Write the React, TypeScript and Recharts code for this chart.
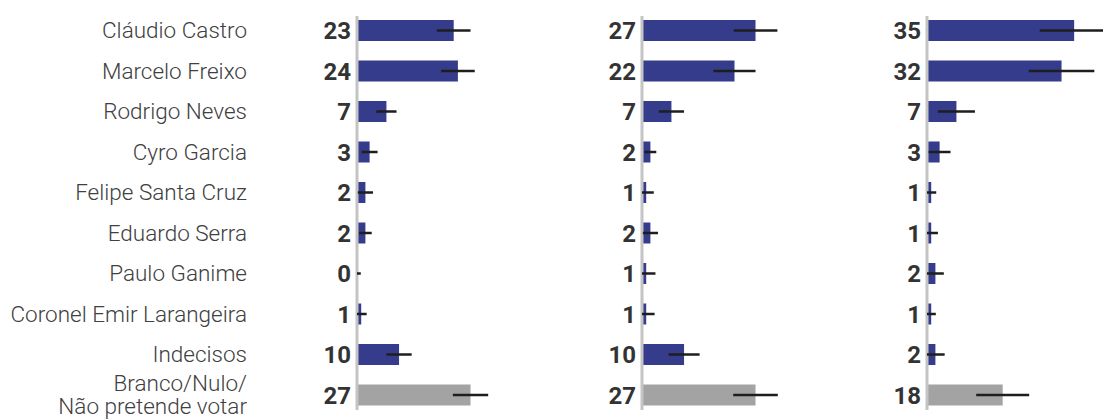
import { Bar, BarChart, ErrorBar, LabelList, ReferenceLine, XAxis, YAxis } from 'recharts';

const categories = [
    'Cláudio Castro',
    'Marcelo Freixo',
    'Rodrigo Neves',
    'Cyro Garcia',
    'Felipe Santa Cruz',
    'Eduardo Serra',
    'Paulo Ganime',
    'Coronel Emir Larangeira',
    'Indecisos',
    'Branco/Nulo/\nNão pretende votar',
];

// three polls, one panel each
const panel1Values = [23, 24, 7, 3, 2, 2, 0, 1, 10, 27];
const panel1Margins = [4, 4, 2.4, 1.9, 1.8, 1.5, 0.9, 1.3, 3, 4.2];

const panel2Values = [27, 22, 7, 2, 1, 2, 1, 1, 10, 27];
const panel2Margins = [5.2, 5, 3, 1.4, 1.8, 1.8, 2.2, 2, 3.7, 5.3];

const panel3Values = [35, 32, 7, 3, 1, 1, 2, 1, 2, 18];
const panel3Margins = [8.2, 7.8, 4.4, 2.6, 1.2, 1.6, 2, 1.1, 2.2, 6.3];

const BLUE = '#343c8b';
const GREY = '#a3a3a3';

const buildRows = (values: number[], margins: number[]) =>
    categories.map((name, i) => ({
        name,
        value: values[i],
        // lower bound is clipped at zero
        err: [Math.min(margins[i], values[i]), margins[i]],
        fill: i === categories.length - 1 ? GREY : BLUE,
    }));

const CategoryTick = ({ x, y, payload }: any) => {
    const lines = String(payload.value).split('\n');
    const lh = 22.5;
    const start = (-(lines.length - 1) * lh) / 2;
    return (
        <text
            x={x}
            y={y}
            textAnchor="end"
            fill="#404040"
            fontSize={22.5}
            fontFamily="'Roboto Light', Roboto"
            fontWeight={300}
        >
            {lines.map((l, i) => (
                <tspan key={i} x={x} y={y + start + i * lh} dy="0.35em">
                    {l}
                </tspan>
            ))}
        </text>
    );
};

const AxisLine = (p: any) => (
    <line x1={p.x1} x2={p.x2} y1={p.y1 - 5} y2={p.y2 + 6} stroke="#c4c4c4" strokeWidth={3} />
);

interface PanelProps {
    values: number[];
    margins: number[];
    left: number;
    width: number;
    marginLeft: number;
    showNames?: boolean;
}

function Panel({ values, margins, left, width, marginLeft, showNames }: PanelProps) {
    const rows = buildRows(values, margins);
    return (
        <div style={{ position: 'absolute', left, top: 0 }}>
            <BarChart
                width={width}
                height={419}
                data={rows}
                layout="vertical"
                margin={{ top: 10, right: 0, bottom: 4, left: showNames ? 0 : marginLeft }}
            >
                <XAxis type="number" domain={[0, 44]} hide />
                <YAxis
                    type="category"
                    dataKey="name"
                    hide={!showNames}
                    width={showNames ? marginLeft : 0}
                    axisLine={false}
                    tickLine={false}
                    tickSize={0}
                    tickMargin={110}
                    interval={0}
                    tick={<CategoryTick />}
                />
                <ReferenceLine x={0} shape={<AxisLine />} />
                <Bar dataKey="value" barSize={21} minPointSize={1} isAnimationActive={false}>
                    <ErrorBar dataKey="err" direction="x" width={0} stroke="#1e1e1e" strokeWidth={2.5} />
                    <LabelList
                        dataKey="value"
                        position="left"
                        offset={6}
                        fill="#333"
                        fontSize={24}
                        fontWeight={700}
                        fontFamily="Roboto"
                    />
                </Bar>
            </BarChart>
        </div>
    );
}

export default function App() {
    return (
        <div
            style={{
                position: 'absolute',
                left: 0,
                top: 0,
                width: 1103,
                height: 419,
                overflow: 'hidden',
                background: '#fff',
            }}
        >
            <Panel values={panel1Values} margins={panel1Margins} left={0} width={542} marginLeft={357} showNames />
            <Panel values={panel2Values} margins={panel2Margins} left={525} width={302} marginLeft={117} />
            <Panel values={panel3Values} margins={panel3Margins} left={810} width={302} marginLeft={117} />
        </div>
    );
}
